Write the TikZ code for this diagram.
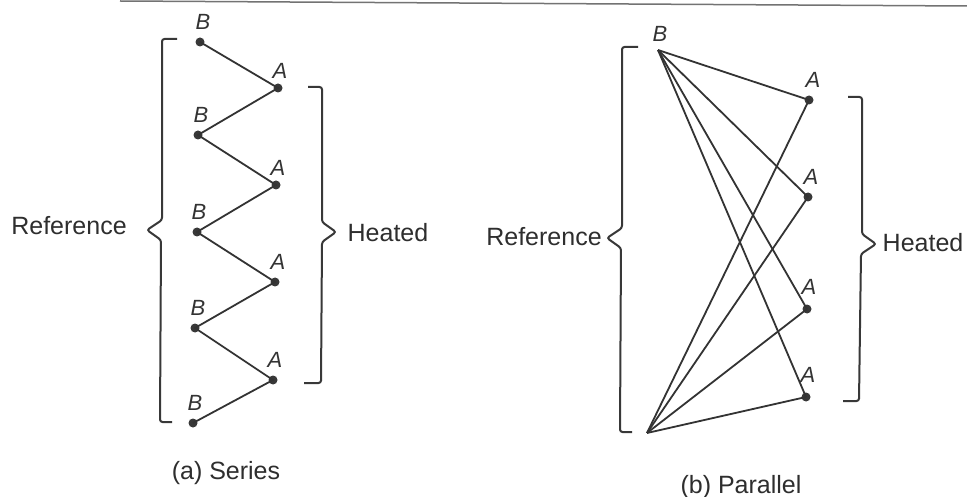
\documentclass[tikz,border=0pt]{standalone}
\usepackage{fontspec}
\setmainfont{Liberation Sans}
\begin{document}
\begin{tikzpicture}[x=1pt,y=-1pt,
  ln/.style={draw=black!80,line width=1.8pt},
  br/.style={draw=black!78,line width=2pt,rounded corners=2.5pt},
  dot/.style={circle,fill=black!78,inner sep=0pt,minimum size=9pt},
  lbl/.style={font=\fontsize{22}{26}\selectfont\itshape,text=black!80,inner sep=0pt},
  txt/.style={font=\fontsize{25}{30}\selectfont,text=black!82,inner sep=0pt}]
\useasboundingbox (0,0) rectangle (967,497);
\fill[white] (0,0) rectangle (967,497);
% scan edge line at top
\coordinate (e1) at (120,1);
\coordinate (e2) at (967,6);
\draw[black!55,line width=1.5pt] (e1) -- (e2);

% ---------- (a) Series ----------
\node[dot] (b1) at (200,42) {};
\node[dot] (a1) at (278,88) {};
\node[dot] (b2) at (198,135) {};
\node[dot] (a2) at (276,185) {};
\node[dot] (b3) at (197,232) {};
\node[dot] (a3) at (275,282) {};
\node[dot] (b4) at (195,328) {};
\node[dot] (a4) at (273,380) {};
\node[dot] (b5) at (193,423) {};
\draw[ln] (b1.center) -- (a1.center) -- (b2.center) -- (a2.center) -- (b3.center)
  -- (a3.center) -- (b4.center) -- (a4.center) -- (b5.center);
\node[lbl] (lb1) at (203,22) {B};
\node[lbl] (la1) at (280,71) {A};
\node[lbl] (lb2) at (201,115) {B};
\node[lbl] (la2) at (278,168) {A};
\node[lbl] (lb3) at (199,212) {B};
\node[lbl] (la3) at (278,262) {A};
\node[lbl] (lb4) at (198,308) {B};
\node[lbl] (la4) at (275,360) {A};
\node[lbl] (lb5) at (195,403) {B};

% braces
\draw[br] (177,39) -- (162,39) -- (162,220) -- (147,230) -- (161,240) -- (160,422) -- (172,422);
\draw[br] (308,87) -- (322,87) -- (322,222) -- (336,232) -- (322,242) -- (321,383) -- (304,383);
\node[txt] (ref1) at (69,226) {Reference};
\node[txt] (hot1) at (388,233) {Heated};
\node[txt] (cap1) at (226,473) {(a) Series};

% ---------- (b) Parallel ----------
\coordinate (pb) at (658,50);
\coordinate (pbot) at (647,433);
\node[dot] (p1) at (809,100) {};
\node[dot] (p2) at (808,197) {};
\node[dot] (p3) at (807,309) {};
\node[dot] (p4) at (806,397) {};
\foreach \n in {p1,p2,p3,p4}{
  \draw[ln] (pb) -- (\n.center);
  \draw[ln] (pbot) -- (\n.center);
}
\node[lbl] (plb) at (660,34) {B};
\node[lbl] (pl1) at (813,80) {A};
\node[lbl] (pl2) at (811,177) {A};
\node[lbl] (pl3) at (809,287) {A};
\node[lbl] (pl4) at (808,375) {A};

\draw[br] (638,47) -- (622,47) -- (622,228) -- (607,238) -- (621,248) -- (620,432) -- (632,432);
\draw[br] (848,97) -- (862,97) -- (862,234) -- (876,244) -- (861,254) -- (859,401) -- (843,401);
\node[txt] (ref2) at (544,237) {Reference};
\node[txt] (hot2) at (923,243) {Heated};
\node[txt] (cap2) at (741,487) {(b) Parallel};
\end{tikzpicture}
\end{document}
